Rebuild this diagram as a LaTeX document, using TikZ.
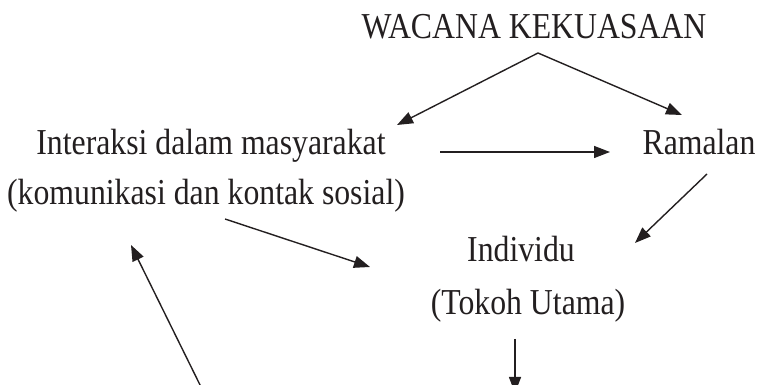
\documentclass[tikz,border=0pt]{standalone}
\usepackage{fontspec}
\setmainfont[FakeStretch=0.87]{Liberation Serif}
\usetikzlibrary{arrows.meta}
\definecolor{ink}{HTML}{231F20}
\begin{document}
\begin{tikzpicture}[x=1pt,y=1pt,
  lbl/.style={inner sep=0pt, anchor=base, text=ink,
              font=\fontsize{36.5}{42}\selectfont},
  arr/.style={line width=1.4pt, draw=ink,
              -{Triangle[length=16pt,width=12pt]}}]
\useasboundingbox (0,0) rectangle (760,385);

% labels
\node[lbl] (wacana)     at (534,346) {WACANA KEKUASAAN};
\node[lbl] (interaksi)  at (211,230) {Interaksi dalam masyarakat};
\node[lbl] (komunikasi) at (206,180) {(komunikasi dan kontak sosial)};
\node[lbl] (ramalan)    at (699,230) {Ramalan};
\node[lbl] (individu)   at (521,123) {Individu};
\node[lbl] (tokoh)      at (528,70)  {(Tokoh Utama)};

% arrow end points
\coordinate (apex)   at (538,332);
\coordinate (toInt)  at (397,260);
\coordinate (toRam)  at (682,270);
\coordinate (hFrom)  at (440,233);
\coordinate (hTo)    at (610,233);
\coordinate (rFrom)  at (707,211);
\coordinate (rTo)    at (635,142);
\coordinate (kFrom)  at (225,166);
\coordinate (kTo)    at (370,118);
\coordinate (dFrom)  at (515,46);
\coordinate (dTo)    at (515,-8);
\coordinate (uFrom)  at (203.5,-7);
\coordinate (uTo)    at (131,140);

% connectors
\draw[arr] (apex) -- (toInt);
\draw[arr] (apex) -- (toRam);
\draw[arr] (hFrom) -- (hTo);
\draw[arr] (rFrom) -- (rTo);
\draw[arr] (kFrom) -- (kTo);
\draw[arr] (dFrom) -- (dTo);
\draw[arr] (uFrom) -- (uTo);
\end{tikzpicture}
\end{document}
